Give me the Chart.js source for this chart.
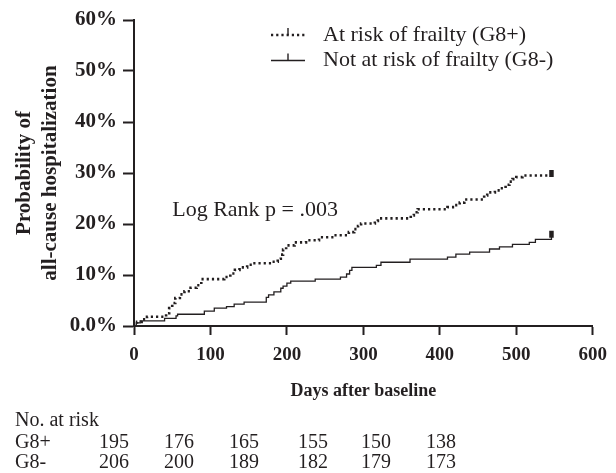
<!DOCTYPE html>
<html>
<head>
<meta charset="utf-8">
<script src="https://cdn.jsdelivr.net/npm/chart.js@4.4.1/dist/chart.umd.min.js"></script>
<style>
  html, body { margin: 0; padding: 0; background: #fff; }
  #wrap { width: 616px; height: 473px; }
</style>
</head>
<body>
<div id="wrap"><canvas id="kmChart" width="616" height="473"></canvas></div>
<script>
// Kaplan-Meier style cumulative hospitalization
const seriesLabels = ['At risk of frailty (G8+)', 'Not at risk of frailty (G8-)'];

const daysPlus = [0, 4, 10, 17, 42, 46, 50, 54, 60, 66, 74, 82, 88, 118, 126, 132, 138, 148, 155, 180, 188, 192, 195, 199,
  210, 225, 242, 262, 281, 288, 293, 297, 315, 319, 362, 366, 371, 410, 419, 426, 432, 458, 462, 472, 479, 486, 491,
  495, 500, 508, 546, 546];
const pctPlus = [0, 0.8, 1.3, 1.8, 2.5, 3.5, 4.5, 5.5, 6.2, 6.8, 7.5, 8.0, 9.2, 9.6, 10.3, 11.0, 11.5, 12.0, 12.3, 12.6,
  13.2, 14.0, 15.0, 15.8, 16.4, 16.8, 17.4, 17.8, 18.4, 19.0, 19.6, 20.1, 20.6, 21.1, 21.7, 22.3, 22.9, 23.3, 23.7, 24.2,
  24.8, 25.6, 26.2, 26.6, 27.0, 27.7, 28.3, 28.8, 29.2, 29.5, 29.5, 29.9];

const daysMinus = [0, 3, 8, 40, 55, 57, 92, 105, 121, 131, 144, 173, 176, 183, 192, 195, 200, 205, 237, 270, 278, 282,
  285, 317, 323, 361, 410, 421, 439, 465, 478, 495, 517, 525, 546, 546];
const pctMinus = [0, 0.6, 1.0, 1.5, 2.0, 2.3, 2.9, 3.5, 3.8, 4.3, 4.7, 5.6, 6.1, 6.7, 7.4, 7.8, 8.4, 8.8, 9.2, 9.6, 10.2,
  10.9, 11.5, 11.9, 12.5, 13.1, 13.5, 14.1, 14.5, 15.1, 15.5, 16.0, 16.4, 17.0, 17.0, 18.0];

const xTicks = [0, 100, 200, 300, 400, 500, 600];
const yTicks = [0, 10, 20, 30, 40, 50, 60];

const logRankText = 'Log Rank p = .003';
const riskTitle = 'No. at risk';
const riskRowLabels = ['G8+', 'G8-'];
const riskPlus = [195, 176, 165, 155, 150, 138];
const riskMinus = [206, 200, 189, 182, 179, 173];

const INK = '#231f20';
const SERIF = "'Liberation Serif', 'Times New Roman', serif";

Chart.defaults.font.family = SERIF;
Chart.defaults.color = INK;

function toPoints(xs, ys) {
  return xs.map((d, i) => ({ x: d, y: ys[i] }));
}

// censor tick only on the last point of each curve
function lastOnly(size) {
  return ctx => ctx.dataIndex === ctx.dataset.data.length - 1 ? size : 0;
}

const overlay = {
  id: 'overlay',
  afterDraw(chart) {
    const ctx = chart.ctx;
    const xs = chart.scales.x;
    const ys = chart.scales.y;
    ctx.save();
    ctx.fillStyle = INK;
    ctx.strokeStyle = INK;
    ctx.textBaseline = 'middle';
    ctx.textAlign = 'left';

    // legend, top right
    ctx.font = '22px ' + SERIF;
    chart.data.datasets.forEach((ds, i) => {
      const ly = 35 + i * 25.5;
      ctx.beginPath();
      ctx.setLineDash(ds.borderDash || []);
      ctx.lineWidth = ds.borderWidth;
      ctx.moveTo(271, ly);
      ctx.lineTo(305, ly);
      ctx.stroke();
      ctx.setLineDash([]);
      ctx.lineWidth = 1.4;
      ctx.beginPath();
      ctx.moveTo(288, ly);
      ctx.lineTo(288, ly - 7);
      ctx.stroke();
      ctx.fillText(ds.label, 323, ly);
    });

    // log rank annotation
    ctx.fillText(logRankText, xs.getPixelForValue(50), ys.getPixelForValue(22.7));

    // numbers at risk
    ctx.font = '20px ' + SERIF;
    ctx.fillText(riskTitle, 15, 421);
    const cols = [114, 179, 244, 313, 376, 441];
    [riskPlus, riskMinus].forEach((row, r) => {
      const ry = 443 + r * 20;
      ctx.textAlign = 'left';
      ctx.fillText(riskRowLabels[r], 15, ry);
      ctx.textAlign = 'center';
      row.forEach((n, c) => ctx.fillText(String(n), cols[c], ry));
    });
    ctx.restore();
  }
};

new Chart(document.getElementById('kmChart'), {
  type: 'line',
  data: {
    datasets: [
      {
        label: seriesLabels[0],
        data: toPoints(daysPlus, pctPlus),
        stepped: true,
        borderColor: INK,
        borderWidth: 2.6,
        borderDash: [2.2, 3],
        pointStyle: 'line',
        rotation: 90,
        pointRadius: lastOnly(3.5),
        pointBorderWidth: 4.5,
        pointBorderColor: INK,
        fill: false
      },
      {
        label: seriesLabels[1],
        data: toPoints(daysMinus, pctMinus),
        stepped: true,
        borderColor: INK,
        borderWidth: 1.3,
        pointStyle: 'line',
        rotation: 90,
        pointRadius: lastOnly(3.5),
        pointBorderWidth: 4.5,
        pointBorderColor: INK,
        fill: false
      }
    ]
  },
  options: {
    responsive: false,
    animation: false,
    layout: { padding: { left: 0, top: 20, right: 20, bottom: 71 } },
    plugins: {
      legend: { display: false },
      tooltip: { enabled: false }
    },
    scales: {
      x: {
        type: 'linear',
        min: 0,
        max: 600,
        afterBuildTicks: s => { s.ticks = xTicks.map(v => ({ value: v })); },
        afterFit: s => { s.height = 76; },
        border: { display: true, color: INK, width: 2 },
        grid: { drawOnChartArea: false, drawTicks: true, tickLength: 9, tickWidth: 2, tickColor: INK },
        ticks: { padding: 9, color: INK, font: { size: 19, weight: 'bold' } },
        title: {
          display: true,
          text: 'Days after baseline',
          color: INK,
          padding: { top: 0, bottom: 0 },
          font: { size: 18, weight: 'bold' }
        }
      },
      y: {
        min: 0,
        max: 60,
        afterBuildTicks: s => { s.ticks = yTicks.map(v => ({ value: v })); },
        afterFit: s => { s.width = 134; },
        border: { display: true, color: INK, width: 2 },
        grid: { drawOnChartArea: false, drawTicks: true, tickLength: 11, tickWidth: 2, tickColor: INK },
        ticks: {
          padding: 6,
          color: INK,
          font: { size: 21, weight: 'bold' },
          callback: v => v === 0 ? '0.0%' : v + '%'
        },
        title: {
          display: true,
          text: ['Probability of', 'all-cause hospitalization'],
          color: INK,
          padding: { top: 11, bottom: 0 },
          font: { size: 21, weight: 'bold', lineHeight: 1.25 }
        }
      }
    }
  },
  plugins: [overlay]
});
</script>
</body>
</html>
